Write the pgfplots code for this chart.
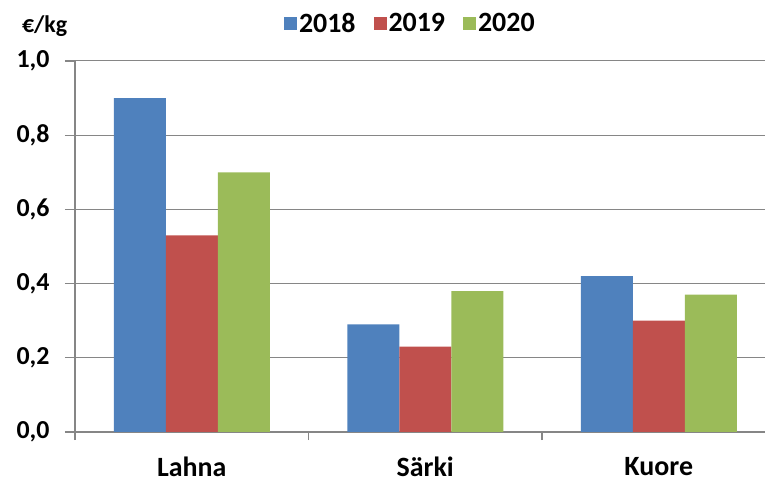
\documentclass[border=0pt]{standalone}
\usepackage{pgfplots}
\pgfplotsset{compat=1.18}
\usepackage{fontspec}
\setmainfont{Carlito}
\definecolor{c18}{HTML}{4F81BD}
\definecolor{c19}{HTML}{C0504D}
\definecolor{c20}{HTML}{9BBB59}
\definecolor{gridc}{HTML}{868686}
\begin{document}
\begin{tikzpicture}
\path[use as bounding box] (0,0) rectangle (765bp,486bp);
\begin{axis}[
  at={(75bp,54bp)}, anchor=south west,
  scale only axis, width=690bp, height=371bp,
  xmin=-0.5, xmax=2.455, ymin=0, ymax=1,
  axis lines*=left,
  axis line style={gridc, line width=1.2bp, -},
  ymajorgrids, grid style={gridc, line width=1bp},
  ytick={0,0.2,...,1.0},
  yticklabel style={/pgf/number format/fixed, /pgf/number format/fixed zerofill, /pgf/number format/precision=1, /pgf/number format/use comma, xshift=-12bp,
    font=\fontsize{26}{30}\selectfont\bfseries},
  /pgf/number format/assume math mode=true,
  xtick={0,1,2}, xticklabels={Lahna,Särki,Kuore},
  major x tick style={draw=none},
  minor xtick={-0.5,0.5,1.5,2.5},
  minor x tick style={gridc, line width=1.2bp},
  minor tick length=8bp,
  major tick length=10bp,
  tick align=outside,
  y tick style={gridc, line width=1.2bp},
  xticklabel style={yshift=-14bp, inner ysep=1bp, font=\fontsize{28}{32}\selectfont\bfseries},
  title={\fontsize{24}{28}\selectfont\bfseries €/kg},
  title style={at={(rel axis cs:-0.044,1.077)}, anchor=center},
  ybar, bar width=52bp,
  legend style={at={(rel axis cs:0.486,1.102)}, anchor=center, draw=none,
    font=\fontsize{28}{32}\selectfont\bfseries, legend columns=3,
    /tikz/every even column/.append style={column sep=16bp}},
  legend image code/.code={\fill[#1,draw=none] (-6bp,-6.5bp) rectangle (7bp,6.5bp);},
]
\addplot[fill=c18, draw=none, bar shift=-52bp] coordinates {(0,0.90) (1,0.29) (2,0.42)};
\addplot[fill=c19, draw=none, bar shift=0bp] coordinates {(0,0.53) (1,0.23) (2,0.30)};
\addplot[fill=c20, draw=none, bar shift=52bp] coordinates {(0,0.70) (1,0.38) (2,0.37)};
\legend{2018,2019,2020}
\end{axis}
\end{tikzpicture}
\end{document}
